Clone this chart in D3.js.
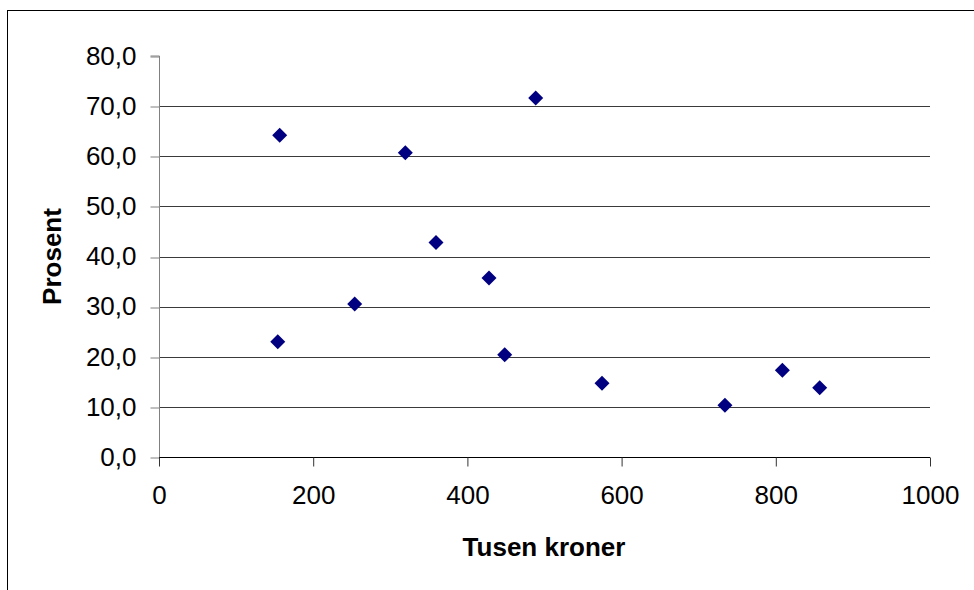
<!DOCTYPE html>
<html>
<head>
<meta charset="utf-8">
<script src="https://cdn.jsdelivr.net/npm/d3@7"></script>
<style>
  body { margin: 0; background: #fff; }
  svg { display: block; font-family: "Liberation Sans", Arial, sans-serif; }
</style>
</head>
<body>
<div id="chart"></div>
<script>
// Data lese av biletet
const inntekt = [156.5, 154, 253.8, 319.5, 359.3, 428, 448.4, 488.6, 574.6, 734, 808.5, 856.9];
const prosent = [64.2, 23.0, 30.5, 60.7, 42.8, 35.7, 20.4, 71.6, 14.7, 10.3, 17.3, 13.8];
const xTicks = [0, 200, 400, 600, 800, 1000];
const yTicks = [0, 10, 20, 30, 40, 50, 60, 70, 80];

const width = 974;
const height = 590;
const margin = { left: 159, right: 44, top: 56, bottom: 133 };
const fontSize = 26;

const svg = d3.select('#chart')
  .append('svg')
  .attr('width', width)
  .attr('height', height);

// Ytre ramme
svg.append('rect')
  .attr('x', 7.5).attr('y', 10.5)
  .attr('width', width + 10).attr('height', height + 10)
  .attr('fill', 'none')
  .attr('stroke', '#000')
  .attr('stroke-width', 1);

const x = d3.scaleLinear().domain([0, 1000]).range([margin.left, width - margin.right]);
const y = d3.scaleLinear().domain([0, 80]).range([height - margin.bottom, margin.top]);

// Rutenett
svg.append('g')
  .selectAll('line')
  .data(yTicks.filter(d => d > 0 && d < 80))
  .enter()
  .append('line')
  .attr('x1', x(0)).attr('x2', x(1000))
  .attr('y1', d => Math.round(y(d)) + 0.5)
  .attr('y2', d => Math.round(y(d)) + 0.5)
  .attr('stroke', '#3a3a3a')
  .attr('stroke-width', 1);

// Y-akse
const yAxis = d3.axisLeft(y)
  .tickValues(yTicks)
  .tickSize(9)
  .tickPadding(14)
  .tickFormat(d => d3.format('.1f')(d).replace('.', ','));

const gy = svg.append('g')
  .attr('transform', `translate(${x(0) + 0.5},0)`)
  .call(yAxis);
gy.select('.domain').attr('stroke', '#808080').attr('d', `M-9,${y(80)}H0V${y(0)}`);
gy.selectAll('.tick line').attr('stroke', '#808080')
  .attr('transform', d => `translate(0,${Math.round(y(d)) + 0.5 - y(d)})`);
gy.selectAll('.tick text').attr('font-size', fontSize).attr('fill', '#000').attr('font-family', 'Liberation Sans, Arial, sans-serif');

// X-akse
const xAxis = d3.axisBottom(x)
  .tickValues(xTicks)
  .tickSize(9)
  .tickPadding(19)
  .tickFormat(d3.format('d'));

const gx = svg.append('g')
  .attr('transform', `translate(0,${Math.round(y(0)) + 0.5})`)
  .call(xAxis);
gx.select('.domain').attr('stroke', '#000').attr('d', `M${x(0)},0H${x(1000)}`);
gx.selectAll('.tick line').attr('stroke', '#333');
gx.selectAll('.tick text').attr('font-size', fontSize).attr('fill', '#000').attr('font-family', 'Liberation Sans, Arial, sans-serif');

// Punkt (ruter)
const r = 7.5;
const diamond = `M0,${-r}L${r},0L0,${r}L${-r},0Z`;
svg.append('g')
  .selectAll('path')
  .data(inntekt.map((v, i) => [v, prosent[i]]))
  .enter()
  .append('path')
  .attr('d', diamond)
  .attr('transform', d => `translate(${x(d[0])},${y(d[1])})`)
  .attr('fill', '#000080');

// Aksetitlar
svg.append('text')
  .attr('x', 544).attr('y', 556)
  .attr('text-anchor', 'middle')
  .attr('font-size', fontSize).attr('font-weight', 'bold')
  .text('Tusen kroner');

svg.append('text')
  .attr('transform', `translate(61,${(y(0) + y(80)) / 2}) rotate(-90)`)
  .attr('text-anchor', 'middle')
  .attr('font-size', fontSize).attr('font-weight', 'bold')
  .text('Prosent');
</script>
</body>
</html>
